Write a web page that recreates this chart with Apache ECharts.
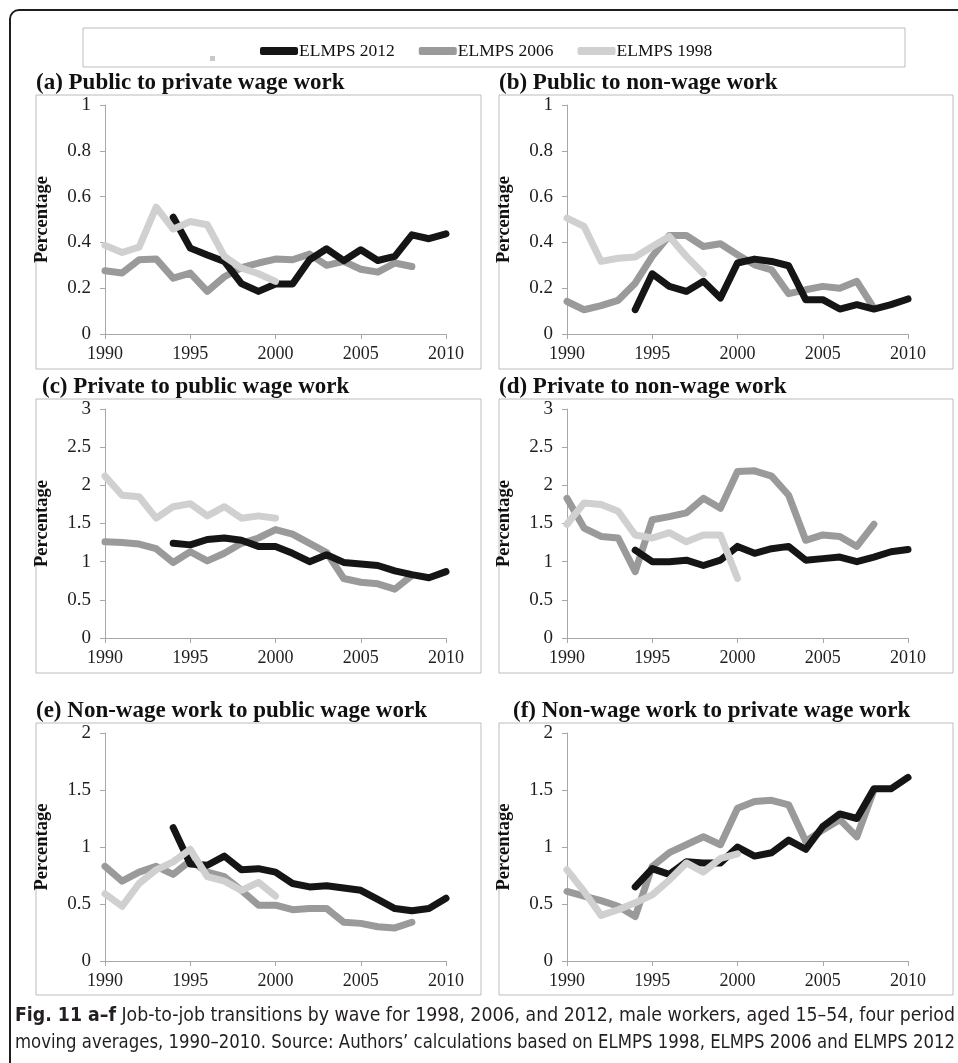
<!DOCTYPE html>
<html>
<head>
<meta charset="utf-8">
<title>Job-to-job transitions by wave</title>
<script src="https://cdn.jsdelivr.net/npm/echarts@6.0.0/dist/echarts.min.js"></script>
<style>
  html, body { margin: 0; padding: 0; background: #ffffff; }
  #chart { width: 958px; height: 1063px; }
</style>
</head>
<body>
<div id="chart"></div>
<script>
// Survey years on the horizontal axis
const years = [1990, 1991, 1992, 1993, 1994, 1995, 1996, 1997, 1998, 1999, 2000,
               2001, 2002, 2003, 2004, 2005, 2006, 2007, 2008, 2009, 2010];

// Wave names used by the legend
const waves = ['ELMPS 2012', 'ELMPS 2006', 'ELMPS 1998'];

// Panel titles
const panelTitles = [
  '(a) Public to private wage work',
  '(b) Public to non-wage work',
  '(c) Private to public wage work',
  '(d) Private to non-wage work',
  '(e) Non-wage work to public wage work',
  '(f) Non-wage work to private wage work'
];

// Vertical axis ranges per panel: [max, interval]
const yRanges = [[1, 0.2], [1, 0.2], [3, 0.5], [3, 0.5], [2, 0.5], [2, 0.5]];

// Figure caption, one entry per line; the first starts with the bold figure label
const captionLabel = 'Fig. 11 a–f';
const captionLines = [
  ' Job-to-job transitions by wave for 1998, 2006, and 2012, male workers, aged 15–54, four period',
  'moving averages, 1990–2010. Source: Authors’ calculations based on ELMPS 1998, ELMPS 2006 and ELMPS 2012'
];

const _ = null;

// (a) Public to private wage work
const a2012 = [_, _, _, _, 0.51, 0.375, 0.345, 0.317, 0.22, 0.186, 0.218, 0.218, 0.324, 0.372, 0.32, 0.368, 0.321, 0.339, 0.433, 0.416, 0.437];
const a2006 = [0.276, 0.266, 0.324, 0.328, 0.244, 0.266, 0.186, 0.25, 0.29, 0.31, 0.327, 0.324, 0.349, 0.30, 0.317, 0.283, 0.27, 0.31, 0.295, _, _];
const a1998 = [0.387, 0.356, 0.379, 0.554, 0.458, 0.491, 0.477, 0.339, 0.288, 0.263, 0.23, _, _, _, _, _, _, _, _, _, _];

// (b) Public to non-wage work
const b2012 = [_, _, _, _, 0.106, 0.263, 0.208, 0.186, 0.23, 0.157, 0.31, 0.327, 0.317, 0.298, 0.15, 0.15, 0.109, 0.128, 0.109, 0.128, 0.153];
const b2006 = [0.142, 0.106, 0.124, 0.147, 0.222, 0.339, 0.43, 0.43, 0.382, 0.394, 0.346, 0.302, 0.28, 0.176, 0.193, 0.208, 0.20, 0.23, 0.113, _, _];
const b1998 = [0.506, 0.47, 0.317, 0.331, 0.336, 0.382, 0.426, 0.339, 0.263, _, _, _, _, _, _, _, _, _, _, _, _];

// (c) Private to public wage work
const c2012 = [_, _, _, _, 1.24, 1.22, 1.29, 1.31, 1.28, 1.20, 1.20, 1.11, 1.00, 1.09, 0.99, 0.97, 0.95, 0.88, 0.83, 0.79, 0.87];
const c2006 = [1.26, 1.25, 1.23, 1.17, 0.99, 1.13, 1.01, 1.11, 1.24, 1.31, 1.42, 1.36, 1.24, 1.12, 0.78, 0.73, 0.71, 0.64, 0.82, _, _];
const c1998 = [2.12, 1.87, 1.85, 1.57, 1.72, 1.76, 1.60, 1.72, 1.57, 1.60, 1.57, _, _, _, _, _, _, _, _, _, _];

// (d) Private to non-wage work
const d2012 = [_, _, _, _, 1.15, 1.00, 1.00, 1.02, 0.95, 1.02, 1.20, 1.11, 1.17, 1.20, 1.02, 1.04, 1.06, 1.00, 1.06, 1.13, 1.16];
const d2006 = [1.83, 1.44, 1.33, 1.31, 0.87, 1.55, 1.59, 1.64, 1.83, 1.70, 2.18, 2.19, 2.12, 1.87, 1.28, 1.35, 1.33, 1.20, 1.49, _, _];
const d1998 = [1.49, 1.77, 1.75, 1.66, 1.35, 1.31, 1.38, 1.26, 1.35, 1.35, 0.78, _, _, _, _, _, _, _, _, _, _];

// (e) Non-wage work to public wage work
const e2012 = [_, _, _, _, 1.17, 0.85, 0.84, 0.92, 0.80, 0.81, 0.78, 0.68, 0.65, 0.66, 0.64, 0.62, 0.54, 0.46, 0.44, 0.46, 0.55];
const e2006 = [0.83, 0.70, 0.78, 0.83, 0.76, 0.88, 0.78, 0.74, 0.62, 0.49, 0.49, 0.45, 0.46, 0.46, 0.34, 0.33, 0.30, 0.29, 0.34, _, _];
const e1998 = [0.59, 0.48, 0.68, 0.80, 0.87, 0.98, 0.74, 0.70, 0.62, 0.69, 0.57, _, _, _, _, _, _, _, _, _, _];

// (f) Non-wage work to private wage work
const f2012 = [_, _, _, _, 0.65, 0.81, 0.76, 0.87, 0.86, 0.86, 1.00, 0.92, 0.95, 1.06, 0.98, 1.18, 1.29, 1.25, 1.51, 1.51, 1.61];
const f2006 = [0.61, 0.57, 0.53, 0.48, 0.39, 0.83, 0.95, 1.02, 1.09, 1.02, 1.34, 1.40, 1.41, 1.37, 1.05, 1.15, 1.24, 1.09, 1.50, _, _];
const f1998 = [0.80, 0.61, 0.40, 0.45, 0.51, 0.58, 0.71, 0.86, 0.78, 0.90, 0.94, _, _, _, _, _, _, _, _, _, _];

const panelSeries = [
  [a2012, a2006, a1998],
  [b2012, b2006, b1998],
  [c2012, c2006, c1998],
  [d2012, d2006, d1998],
  [e2012, e2006, e1998],
  [f2012, f2006, f1998]
];

// ---- styling and layout ----
const SERIF = '"Liberation Serif", "Times New Roman", serif';
const NARROW = '"Liberation Sans Narrow", "DejaVu Sans Condensed", "Arial Narrow", sans-serif';
const waveColors = { 'ELMPS 2012': '#151515', 'ELMPS 2006': '#9a9a9a', 'ELMPS 1998': '#d0d0d0' };
// drawing order: 2006 underneath, then 2012, then 1998 on top
const waveZ = { 'ELMPS 2012': 3, 'ELMPS 2006': 2, 'ELMPS 1998': 4 };
const axisGray = '#a8a8a8';
const frameGray = '#bcbcbc';

// plot areas (pixels)
const colLeft = [105, 567];
const plotW = 341;
const rowTop = [105, 409, 733];
const rowH = [229, 229, 228];

// panel frames [x, y, w, h]
const frames = [
  [36, 95, 445, 274], [499, 95, 454, 274],
  [36, 399, 445, 274], [499, 399, 454, 274],
  [36, 723, 445, 272], [499, 723, 454, 272]
];
// title anchors [x, y(middle)]
const titlePos = [[36, 83], [499, 83], [42, 387], [499, 387], [36, 711], [513, 711]];

const grids = [], xAxes = [], yAxes = [], series = [];

panelSeries.forEach((sets, p) => {
  const col = p % 2, row = Math.floor(p / 2);
  grids.push({
    left: colLeft[col], top: rowTop[row], width: plotW, height: rowH[row],
    containLabel: false, outerBoundsMode: 'none'
  });
  xAxes.push({
    type: 'value', gridIndex: p, min: 1990, max: 2010, interval: 5,
    axisLine: { show: true, lineStyle: { color: axisGray, width: 1 } },
    axisTick: { show: true, length: 5, lineStyle: { color: axisGray } },
    axisLabel: { formatter: v => String(v), fontFamily: SERIF, fontSize: 18, color: '#1e1e1e', margin: 11 },
    splitLine: { show: false }
  });
  yAxes.push({
    type: 'value', gridIndex: p, min: 0, max: yRanges[p][0], interval: yRanges[p][1],
    name: 'Percentage', nameLocation: 'middle', nameGap: 53,
    nameTextStyle: { fontFamily: SERIF, fontSize: 18.5, fontWeight: 'bold', color: '#111' },
    axisLine: { show: true, lineStyle: { color: axisGray, width: 1 } },
    axisTick: { show: true, length: 5, lineStyle: { color: axisGray } },
    axisLabel: { fontFamily: SERIF, fontSize: 19, color: '#1e1e1e', margin: 14 },
    splitLine: { show: false }
  });
  // 2006 first, then 2012, then 1998
  [1, 0, 2].forEach(k => {
    const name = waves[k];
    const pts = [];
    years.forEach((yr, i) => { if (sets[k][i] !== null) pts.push([yr, sets[k][i]]); });
    series.push({
      type: 'line', name: name, xAxisIndex: p, yAxisIndex: p, data: pts,
      showSymbol: false, symbol: 'none', silent: true, animation: false,
      z: waveZ[name], color: waveColors[name],
      itemStyle: { color: waveColors[name] },
      lineStyle: { color: waveColors[name], width: 7, cap: 'round', join: 'round' }
    });
  });
});

// caption lines are justified to the full text width
const CAP_SIZE = 20;
const CAP_LEFT = 15, CAP_WIDTH = 940;
const measure = (() => {
  const ctx = document.createElement('canvas').getContext('2d');
  return (txt, bold) => {
    ctx.font = (bold ? 'bold ' : '') + CAP_SIZE + 'px ' + NARROW;
    return ctx.measureText(txt).width;
  };
})();
const capW1 = measure(captionLabel, true) + measure(captionLines[0], false);
const capW2 = measure(captionLines[1], false);

const graphics = [
  // outer rounded figure border
  { type: 'rect', shape: { x: 10, y: 10, width: 1000, height: 1100, r: 9 },
    style: { fill: 'none', stroke: '#1e1e1e', lineWidth: 2 }, silent: true, z: -10 },
  // legend box
  { type: 'rect', shape: { x: 83, y: 28, width: 822, height: 39 },
    style: { fill: 'none', stroke: frameGray, lineWidth: 1 }, silent: true },
  // small stray legend mark
  { type: 'rect', shape: { x: 210, y: 56, width: 5, height: 5 },
    style: { fill: '#c8c8c8' }, silent: true },
  // caption, first line
  { type: 'text', x: CAP_LEFT, y: 1016, scaleX: CAP_WIDTH / capW1, silent: true,
    style: {
      text: '{b|' + captionLabel + '}' + captionLines[0],
      fontFamily: NARROW, fontSize: CAP_SIZE, fill: '#231f20', verticalAlign: 'middle',
      rich: { b: { fontFamily: NARROW, fontSize: CAP_SIZE, fontWeight: 'bold', fill: '#231f20' } }
    } },
  // caption, second line
  { type: 'text', x: CAP_LEFT, y: 1043, scaleX: CAP_WIDTH / capW2, silent: true,
    style: {
      text: captionLines[1],
      fontFamily: NARROW, fontSize: CAP_SIZE, fill: '#231f20', verticalAlign: 'middle'
    } }
];

frames.forEach(f => {
  graphics.push({ type: 'rect', shape: { x: f[0], y: f[1], width: f[2], height: f[3] },
    style: { fill: 'none', stroke: frameGray, lineWidth: 1 }, silent: true, z: -5 });
});
panelTitles.forEach((t, i) => {
  graphics.push({ type: 'text', x: titlePos[i][0], y: titlePos[i][1], silent: true,
    style: { text: t, fontFamily: SERIF, fontSize: 23, fontWeight: 'bold', fill: '#111',
             align: 'left', verticalAlign: 'middle' } });
});

const chart = echarts.init(document.getElementById('chart'), null, { renderer: 'canvas' });
chart.setOption({
  backgroundColor: '#ffffff',
  animation: false,
  legend: {
    data: waves.map(w => ({ name: w, itemStyle: { color: waveColors[w], borderWidth: 0 } })),
    left: 255, top: 37, icon: 'roundRect', itemWidth: 38, itemHeight: 8, itemGap: 24,
    selectedMode: false,
    textStyle: { fontFamily: SERIF, fontSize: 17.5, color: '#111', padding: [0, 0, 0, -4] }
  },
  grid: grids,
  xAxis: xAxes,
  yAxis: yAxes,
  series: series,
  graphic: graphics
});
</script>
</body>
</html>
